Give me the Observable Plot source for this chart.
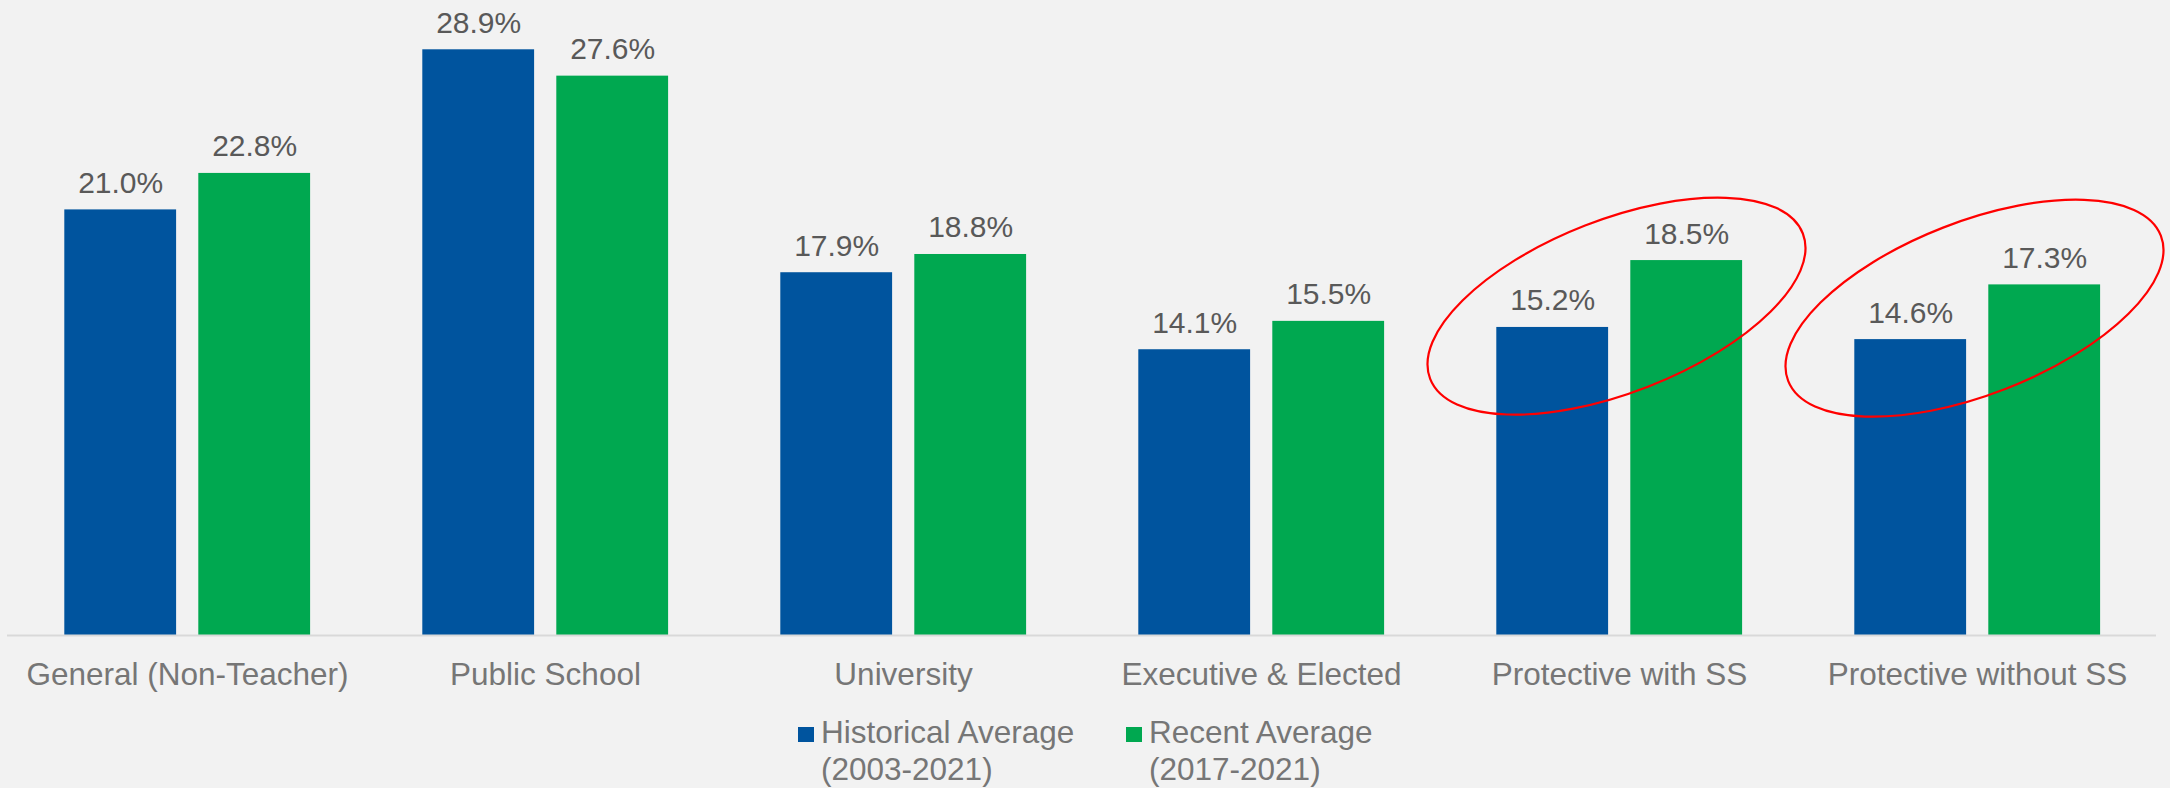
<!DOCTYPE html>
<html>
<head>
<meta charset="utf-8">
<script src="https://cdn.jsdelivr.net/npm/d3@7"></script>
<script src="https://cdn.jsdelivr.net/npm/@observablehq/plot@0.6"></script>
<style>
  html, body { margin: 0; padding: 0; background: #f2f2f2; }
  #wrap { position: relative; width: 2170px; height: 788px; overflow: hidden; font-family: "Liberation Sans", Arial, sans-serif; }
  .legend { position: absolute; top: 714px; left: 0; width: 2170px; height: 74px; }
  .item { position: absolute; top: 0; font-size: 31.5px; line-height: 37px; color: #767676; }
  .sw { position: absolute; width: 16px; height: 15px; top: 13px; }
  .lab { position: absolute; left: 23px; top: 0; white-space: nowrap; }
</style>
</head>
<body>
<div id="wrap"></div>
<script>
const categories = ["General (Non-Teacher)", "Public School", "University", "Executive & Elected", "Protective with SS", "Protective without SS"];
const historical = [21.0, 28.9, 17.9, 14.1, 15.2, 14.6];
const recent = [22.8, 27.6, 18.8, 15.5, 18.5, 17.3];
const seriesNames = ["Historical Average\n(2003-2021)", "Recent Average\n(2017-2021)"];
const seriesColors = ["#00549e", "#00a850"];
const highlighted = ["Protective with SS", "Protective without SS"];
const highlightCenters = [16.25, 16.15];

const hist = categories.map((c, i) => ({category: c, value: historical[i]}));
const rec = categories.map((c, i) => ({category: c, value: recent[i]}));
const notes = highlighted.map((c, i) => ({category: c, value: highlightCenters[i]}));

function ellipseSymbol(rx, ry) {
  const k = 0.5522847;
  return {
    draw(ctx) {
      ctx.moveTo(rx, 0);
      ctx.bezierCurveTo(rx, ry * k, rx * k, ry, 0, ry);
      ctx.bezierCurveTo(-rx * k, ry, -rx, ry * k, -rx, 0);
      ctx.bezierCurveTo(-rx, -ry * k, -rx * k, -ry, 0, -ry);
      ctx.bezierCurveTo(rx * k, -ry, rx, -ry * k, rx, 0);
      ctx.closePath();
    }
  };
}

const fmt = d => d.value.toFixed(1) + "%";

const chart = Plot.plot({
  width: 2170,
  height: 705,
  marginLeft: 7,
  marginRight: 14,
  marginTop: 27,
  marginBottom: 70,
  style: {background: "#f2f2f2", fontFamily: "Liberation Sans, Arial, sans-serif", fontSize: "31.5px", color: "#767676"},
  x: {domain: categories, padding: 0, label: null},
  y: {domain: [0, 30], axis: null},
  marks: [
    Plot.barY(hist, {x: "category", y: "value", fill: seriesColors[0], insetLeft: 56.3, insetRight: 189.9}),
    Plot.barY(rec, {x: "category", y: "value", fill: seriesColors[1], insetLeft: 190.3, insetRight: 55.9}),
    Plot.ruleY([0], {stroke: "#d9d9d9", strokeWidth: 2}),
    Plot.text(hist, {x: "category", y: "value", text: fmt, dx: -66.8, dy: -17, lineAnchor: "bottom", fill: "#595959", fontSize: 30}),
    Plot.text(rec, {x: "category", y: "value", text: fmt, dx: 67.2, dy: -17, lineAnchor: "bottom", fill: "#595959", fontSize: 30}),
    Plot.dot(notes, {x: "category", y: "value", dx: -3, symbol: ellipseSymbol(200, 86.5), rotate: -21.3, stroke: "#ff0000", strokeWidth: 2.2, fill: "none", r: 10}),
    Plot.axisX({tickSize: 0, tickPadding: 27, fill: "#767676", fontSize: 31.5, label: null})
  ]
});

const wrap = document.getElementById("wrap");
wrap.appendChild(chart);

const legend = document.createElement("div");
legend.className = "legend";
const lefts = [798, 1126];
seriesNames.forEach((name, i) => {
  const item = document.createElement("div");
  item.className = "item";
  item.style.left = lefts[i] + "px";
  const sw = document.createElement("div");
  sw.className = "sw";
  sw.style.background = seriesColors[i];
  const lab = document.createElement("div");
  lab.className = "lab";
  lab.innerHTML = name.split("\n").join("<br>");
  item.appendChild(sw);
  item.appendChild(lab);
  legend.appendChild(item);
});
wrap.appendChild(legend);
</script>
</body>
</html>
